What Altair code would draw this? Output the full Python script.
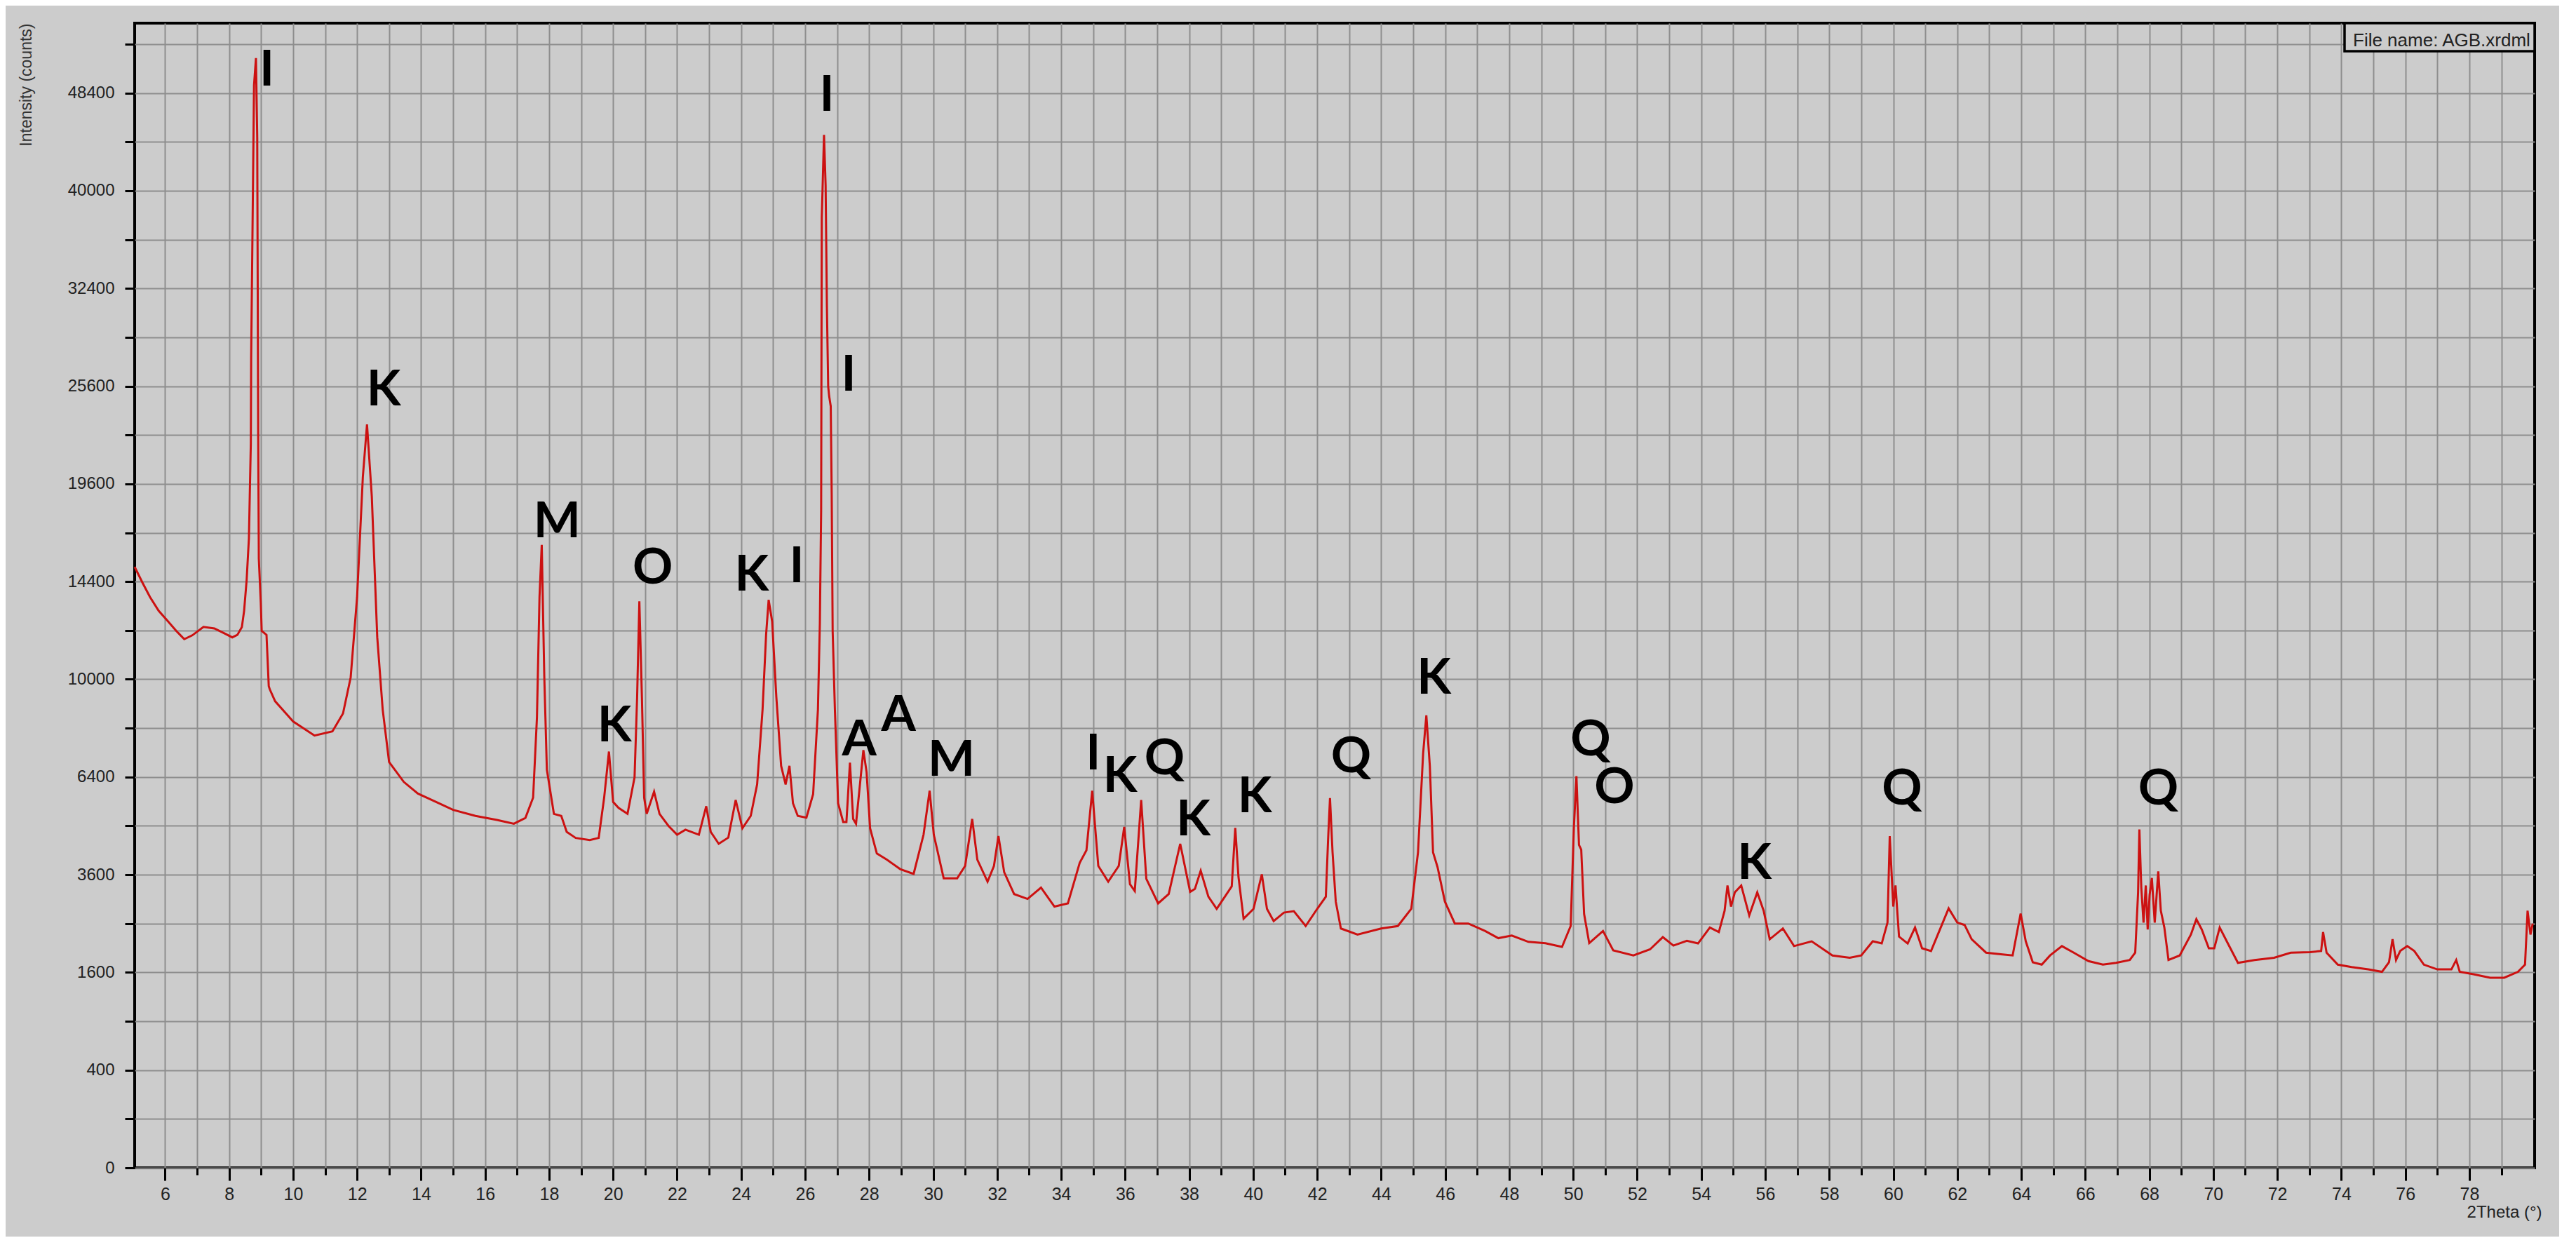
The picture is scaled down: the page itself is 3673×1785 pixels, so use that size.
import altair as alt
import pandas as pd

# ---- diffractogram (2theta in degrees, intensity in counts) ----
two_theta = [
    5.05, 5.3, 5.53, 5.8, 6.09, 6.35, 6.6, 6.85, 7.2, 7.54, 7.85, 8.1, 8.26, 8.4, 8.47, 8.55,
    8.62, 8.68, 8.69, 8.73, 8.78, 8.84, 8.88, 8.91, 8.93, 8.99, 9.02, 9.17, 9.24, 9.27, 9.44,
    10.0, 10.67, 11.23, 11.56, 11.8, 12.0, 12.18, 12.31, 12.46, 12.63, 12.8, 13.0, 13.46,
    13.9, 14.47, 15.0, 15.7, 16.37, 16.9, 17.26, 17.5, 17.62, 17.7, 17.77, 17.85, 17.93,
    18.15, 18.38, 18.55, 18.83, 19.27, 19.55, 19.72, 19.87, 20.0, 20.17, 20.45, 20.67,
    20.75, 20.82, 20.9, 20.97, 21.05, 21.28, 21.45, 21.73, 22.0, 22.26, 22.68, 22.91,
    23.05, 23.3, 23.6, 23.83, 24.04, 24.3, 24.5, 24.67, 24.78, 24.86, 24.97, 25.1, 25.25,
    25.39, 25.51, 25.62, 25.77, 26.04, 26.25, 26.4, 26.46, 26.5, 26.52, 26.59, 26.64,
    26.68, 26.72, 26.75, 26.8, 26.83, 26.86, 26.93, 27.03, 27.19, 27.29, 27.4, 27.5,
    27.59, 27.82, 27.92, 28.03, 28.24, 28.55, 28.97, 29.39, 29.7, 29.89, 30.02, 30.33,
    30.75, 31.0, 31.22, 31.38, 31.7, 31.9, 32.04, 32.22, 32.53, 32.95, 33.37, 33.79,
    34.21, 34.58, 34.79, 34.97, 35.16, 35.47, 35.8, 35.97, 36.15, 36.3, 36.5, 36.66,
    37.03, 37.36, 37.72, 38.03, 38.18, 38.36, 38.6, 38.86, 39.17, 39.33, 39.44, 39.54,
    39.7, 40.01, 40.27, 40.43, 40.64, 40.96, 41.27, 41.64, 42.0, 42.27, 42.34, 42.4,
    42.48, 42.58, 42.74, 43.26, 44.0, 44.52, 44.94, 45.15, 45.31, 45.41, 45.52, 45.62,
    45.76, 45.99, 46.3, 46.72, 47.25, 47.66, 48.08, 48.6, 49.13, 49.65, 49.92, 50.02,
    50.1, 50.18, 50.25, 50.34, 50.5, 50.93, 51.25, 51.88, 52.4, 52.8, 53.13, 53.55,
    53.9, 54.27, 54.55, 54.73, 54.82, 54.93, 55.05, 55.25, 55.5, 55.75, 55.95, 56.14,
    56.55, 56.9, 57.45, 58.1, 58.64, 59.0, 59.36, 59.64, 59.82, 59.89, 60.0, 60.07,
    60.18, 60.45, 60.68, 60.9, 61.18, 61.73, 62.0, 62.23, 62.45, 62.9, 63.36, 63.73,
    63.98, 64.14, 64.36, 64.64, 64.9, 65.27, 65.64, 66.1, 66.55, 66.96, 67.39, 67.56,
    67.65, 67.69, 67.75, 67.82, 67.89, 67.95, 68.01, 68.08, 68.17, 68.28, 68.36, 68.47,
    68.6, 68.95, 69.3, 69.47, 69.64, 69.86, 70.03, 70.2, 70.42, 70.77, 71.29, 71.9,
    72.42, 73.02, 73.37, 73.43, 73.54, 73.89, 74.32, 74.84, 75.27, 75.49, 75.6, 75.71,
    75.84, 76.06, 76.28, 76.58, 77.0, 77.44, 77.59, 77.7, 78.13, 78.65, 79.09, 79.52,
    79.74, 79.82, 79.91, 79.98,
]
counts = [
    15130, 14330, 13650, 13000, 12520, 12080, 11710, 11880, 12260, 12190, 11970, 11790, 11900, 12250, 13000, 14500,
    16600, 22000, 27500, 36250, 49100, 51600, 44500, 22500, 15550, 13400, 12080, 11900, 9720, 9600, 9120,
    8350, 7830, 7980, 8650, 10080, 13650, 20000, 23160, 18880, 11800, 8800, 6900, 6240,
    5870, 5610, 5370, 5190, 5070, 4960, 5130, 5740, 8500, 13650, 16260, 10090, 6640,
    5250, 5190, 4730, 4560, 4500, 4560, 5740, 7260, 5610, 5430, 5250, 6390,
    9270, 13450, 9270, 5740, 5250, 5930, 5250, 4900, 4650, 4790, 4650, 5480,
    4730, 4400, 4570, 5670, 4830, 5190, 6160, 8800, 11900, 13520, 12500, 9290, 6770,
    6160, 6770, 5570, 5190, 5140, 5850, 8800, 12430, 18090, 37830, 44700, 40440,
    31120, 25600, 24960, 24300, 18990, 12080, 8800, 5570, 5010, 5010, 6880, 5100,
    4960, 7310, 6560, 4830, 4140, 3980, 3740, 3620, 4650, 5960, 4650, 3510,
    3510, 3820, 5100, 3980, 3430, 3820, 4610, 3660, 3140, 3030, 3290, 2860,
    2930, 3900, 4225, 5960, 3820, 3430, 3820, 4870, 3370, 3210, 5670, 3500,
    2930, 3140, 4400, 3190, 3260, 3700, 3080, 2810, 3140, 3320, 4840, 3550,
    2600, 2810, 3610, 2810, 2550, 2730, 2760, 2450, 2810, 3080, 4500, 5730,
    4170, 2970, 2400, 2280, 2400, 2450, 2810, 4170, 7190, 8580, 6760, 4170,
    3790, 2970, 2500, 2500, 2350, 2210, 2260, 2140, 2115, 2045, 2450, 4840,
    6430, 4370, 4240, 2700, 2115, 2350, 1980, 1890, 2000, 2230, 2070, 2160,
    2110, 2420, 2330, 2770, 3340, 2860, 3180, 3340, 2670, 3180, 2770, 2190,
    2400, 2060, 2150, 1890, 1850, 1890, 2150, 2110, 2520, 4610, 2860, 3340,
    2240, 2110, 2420, 2020, 1970, 2820, 2520, 2470, 2190, 1940, 1910, 1890,
    2710, 2150, 1770, 1730, 1890, 2060, 1940, 1790, 1730, 1760, 1810, 1940,
    3180, 4800, 3290, 2520, 3340, 2380, 3120, 3520, 2520, 3680, 2770, 2420,
    1810, 1890, 2280, 2590, 2380, 2020, 2020, 2420, 2150, 1760, 1810, 1850,
    1940, 1950, 1970, 2330, 1940, 1730, 1690, 1650, 1610, 1770, 2190, 1810,
    1970, 2060, 1970, 1730, 1650, 1650, 1810, 1610, 1570, 1515, 1515, 1610,
    1730, 2770, 2280, 2500,
]

# ---- phase labels ----
label_text = ["I", "K", "M", "K", "O", "K", "I", "I", "I", "A", "A", "M",
              "I", "K", "Q", "K", "K", "Q", "K", "Q", "O", "K", "Q", "Q"]
label_theta = [9.18, 12.83, 18.25, 20.04, 21.24, 24.33, 25.74, 26.68, 27.36, 27.69, 28.92, 30.57,
               35.0, 35.84, 37.23, 38.13, 40.05, 43.06, 45.65, 50.54, 51.29, 55.66, 60.27, 68.28]
label_counts = [49060, 24370, 16670, 7610, 14310, 13970, 14380, 46820, 25310, 7123, 8013, 6435,
                6645, 5915, 6496, 4630, 5300, 6561, 9410, 7123, 5565, 3505, 5535, 5535]

# ---- axis ticks ----
x_ticks = list(range(6, 80))
y_ticks = [(10 * k) ** 2 for k in range(0, 24)]

file_note = ["File name: AGB.xrdml"]

df = pd.DataFrame({"two_theta": two_theta, "counts": counts})
labels = pd.DataFrame({"text": label_text, "two_theta": label_theta, "counts": label_counts})
note = pd.DataFrame({"text": file_note})

BG = "#cccccc"
GRID = "#8e8e8e"
LABEL_FONT = "Liberation Sans"

xscale = alt.Scale(domain=[5.05, 80.04], nice=False, zero=False)
yscale = alt.Scale(type="sqrt", domain=[0, 54900], nice=False)

xaxis = alt.Axis(
    values=x_ticks, format="d",
    labelExpr="datum.value % 2 == 0 ? datum.label : ''",
    grid=True, gridColor=GRID, gridWidth=2,
    domain=False,
    tickColor="black", tickWidth=3,
    tickSize={"condition": {"test": "datum.value % 2 == 0", "value": 18}, "value": 10},
    labelFont=LABEL_FONT, labelFontSize=25, labelColor="#222222", labelPadding=7,
    labelFlush=False, labelOverlap=False,
    title="2Theta (°)", titleFont=LABEL_FONT, titleFontSize=24, titleFontWeight="normal",
    titleColor="#222222", titleAlign="right", titleBaseline="alphabetic",
    titleX=3432, titleY=70,
)
yaxis = alt.Axis(
    values=y_ticks, format="d",
    labelExpr="datum.value % 400 == 0 ? datum.label : ''",
    grid=True, gridColor=GRID, gridWidth=2,
    domain=False,
    tickColor="black", tickWidth=3, tickSize=14,
    labelFont=LABEL_FONT, labelFontSize=24, labelColor="#222222", labelPadding=15,
    labelFlush=False, labelOverlap=False,
    title="Intensity (counts)", titleFont=LABEL_FONT, titleFontSize=23, titleFontWeight="normal",
    titleColor="#333333", titleAngle=270, titleAlign="right", titleBaseline="middle",
    titleX=-155, titleY=0,
)

line = alt.Chart(df).mark_line(color="#cc1111", strokeWidth=3).encode(
    x=alt.X("two_theta:Q", scale=xscale, axis=xaxis),
    y=alt.Y("counts:Q", scale=yscale, axis=yaxis),
    order="two_theta:Q",
)

text = alt.Chart(labels).mark_text(
    font="Lato", fontWeight="bold", fontSize=71, color="black",
    align="center", baseline="alphabetic",
).encode(
    x=alt.X("two_theta:Q", scale=xscale, axis=xaxis),
    y=alt.Y("counts:Q", scale=yscale, axis=yaxis),
    text="text:N",
)

box = alt.Chart(note).mark_rect(fill=BG, stroke="black", strokeWidth=3.5).encode(
    x=alt.value(3151), x2=alt.value(3422), y=alt.value(0), y2=alt.value(40),
)
box_text = alt.Chart(note).mark_text(
    font=LABEL_FONT, fontSize=26, color="#222222", align="left", baseline="alphabetic",
).encode(
    x=alt.value(3163), y=alt.value(33), text="text:N",
)

chart = alt.layer(line, text, box, box_text).properties(
    width=3422, height=1632,
    background=BG,
    padding={"left": 184, "top": 25, "right": 35, "bottom": 98},
    autosize=alt.AutoSizeParams(type="none"),
).configure_view(stroke="black", strokeWidth=4)

chart.save("out.html", embed_options={"renderer": "svg", "actions": False})
